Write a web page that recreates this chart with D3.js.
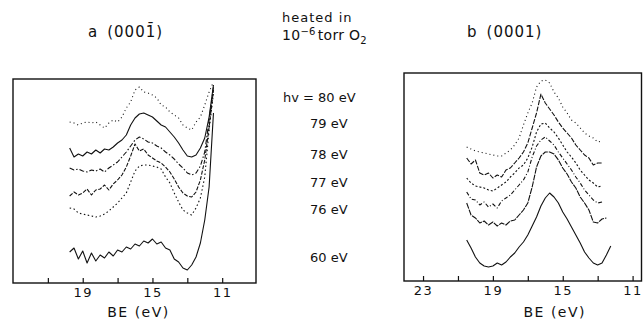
<!DOCTYPE html>
<html>
<head>
<meta charset="utf-8">
<script src="https://cdn.jsdelivr.net/npm/d3@7"></script>
<style>
body { margin: 0; background: #fff; }
text { font-family: "DejaVu Sans", sans-serif; fill: #111; }
.trace { fill: none; stroke: #111; stroke-width: 1.1; stroke-linejoin: round; }
.frame { fill: none; stroke: #111; stroke-width: 1.4; }
.axis text { font-size: 13px; letter-spacing: 1.5px; }
.axis line { stroke: #111; stroke-width: 1.2; }
</style>
</head>
<body>
<svg id="chart" width="643" height="322"></svg>
<script>
/////////////////////////////////////
///      DATA
/////////////////////////////////////

var photonEnergies = [80, 79, 78, 77, 76, 60];   // eV, top to bottom

var ticksA = [21, 19, 17, 15, 13, 11], tickLabelsA = [19, 15, 11];
var ticksB = [23, 21, 19, 17, 15, 13, 11], tickLabelsB = [23, 19, 15, 11];

// panel a (000-1), binding energy grid (eV)
var beA = [19.75, 19.5, 19.25, 19.0, 18.75, 18.5, 18.25, 18.0, 17.75, 17.5, 17.25, 17.0,
           16.75, 16.5, 16.25, 16.0, 15.75, 15.5, 15.25, 15.0, 14.75, 14.5, 14.25, 14.0,
           13.75, 13.5, 13.25, 13.0, 12.75, 12.5, 12.25, 12.0, 11.75, 11.5];
var a80 = [161,160,158,160,161,160,161,158,155,160,163,161,166,175,181,193,196,191,190,188,185,178,176,171,168,165,158,155,153,161,166,178,191,201];
var a79 = [135,126,129,127,131,129,133,130,134,133,136,140,143,148,158,165,169,170,168,166,162,158,156,151,146,140,133,127,126,128,135,145,166,198];
var a78 = [115,113,114,112,111,113,112,114,111,115,118,121,126,131,137,143,146,144,141,140,137,135,131,128,124,119,115,110,108,110,117,131,163,196];
var a77 = [87,91,88,90,94,88,93,94,98,93,99,103,108,116,127,139,132,134,128,125,122,120,116,111,104,96,90,87,86,91,103,123,156,193];
var a76 = [75,74,70,69,68,67,66,67,69,72,76,80,85,90,101,112,117,118,118,117,116,114,106,100,90,81,73,70,68,75,85,106,153,190];
var a60 = [31,35,24,32,20,30,22,28,25,31,27,33,31,36,34,39,37,42,40,44,39,41,35,33,24,21,15,13,18,26,40,63,96,170];

// panel b (0001)
var beB = [20.5, 20.25, 20.0, 19.75, 19.5, 19.25, 19.0, 18.75, 18.5, 18.25, 18.0, 17.75,
           17.5, 17.25, 17.0, 16.75, 16.5, 16.25, 16.0, 15.75, 15.5, 15.25, 15.0, 14.75,
           14.5, 14.25, 14.0, 13.75, 13.5, 13.25, 13.0, 12.75, 12.5, 12.25];
var b80 = [134,132,130,129,128,127,126,125,125,128,131,136,143,156,168,178,194,200,201,198,189,183,174,168,161,158,153,148,145,143,139,140,null,null];
var b79 = [123,117,121,108,106,108,103,106,104,111,113,118,123,129,138,153,168,187,178,172,166,159,153,148,143,136,131,126,123,116,118,118,null,null];
var b78 = [103,98,95,94,93,91,90,93,96,99,104,108,113,116,123,134,149,157,158,153,149,143,136,129,124,118,111,106,101,98,94,95,null,null];
var b77 = [89,82,81,76,79,74,77,73,80,83,86,91,96,101,109,124,135,141,144,140,136,129,123,117,111,104,98,91,86,81,78,79,null,null];
var b76 = [78,66,63,58,60,56,59,55,58,56,60,61,66,71,78,94,114,125,129,129,127,121,113,107,99,93,84,78,71,59,58,62,63,null];
var b60 = [41,33,24,18,15,14,15,18,16,19,24,28,34,39,46,55,64,75,83,88,84,78,69,62,54,46,38,29,23,18,16,18,26,35];

/////////////////////////////////////
///      PANELS
/////////////////////////////////////

var svg = d3.select("#chart");

function drawPanel(cfg) {
  var x = d3.scaleLinear().domain(cfg.xDomain).range([cfg.left, cfg.right]);
  var y = d3.scaleLinear().domain([0, cfg.bottom - cfg.top]).range([cfg.bottom, cfg.top]);

  var line = d3.line()
      .defined(function(d) { return d[1] != null; })
      .x(function(d) { return x(d[0]); })
      .y(function(d) { return y(d[1]); });

  var g = svg.append("g");

  cfg.series.forEach(function(s, i) {
    g.append("path")
      .datum(cfg.be.map(function(b, j) { return [b, s[j]]; }))
      .attr("class", "trace")
      .attr("stroke-dasharray", cfg.dash[i])
      .attr("d", line);
  });

  g.append("g")
    .attr("class", "axis")
    .attr("transform", "translate(0," + cfg.bottom + ")")
    .call(d3.axisBottom(x)
      .tickValues(cfg.ticks)
      .tickSizeInner(-5).tickSizeOuter(0)
      .tickPadding(cfg.pad)
      .tickFormat(function(d) { return cfg.labels.indexOf(d) >= 0 ? d : ""; }))
    .call(function(a) { a.select(".domain").remove(); });

  g.append("rect").attr("class", "frame")
    .attr("x", cfg.left).attr("y", cfg.top)
    .attr("width", cfg.right - cfg.left).attr("height", cfg.bottom - cfg.top);

  g.append("text")
    .attr("x", (cfg.left + cfg.right) / 2 + cfg.titleShift).attr("y", 317)
    .attr("text-anchor", "middle").style("font-size", "14px").style("letter-spacing", "1.5px")
    .text("BE (eV)");
}

drawPanel({
  left: 13, right: 256, top: 79, bottom: 283, xDomain: [23, 9.06],
  be: beA, series: [a80, a79, a78, a77, a76, a60],
  dash: ["1,3", null, "5,2,1.5,2", "4,1.5", "1.5,2.5", null],
  ticks: ticksA, labels: tickLabelsA, pad: 5, titleShift: 4
});

drawPanel({
  left: 404, right: 641.5, top: 73, bottom: 281, xDomain: [24.09, 10.49],
  be: beB, series: [b80, b79, b78, b77, b76, b60],
  dash: ["1,3", "5,1.5", "2,2", "4,2,1,2", "6,1", null],
  ticks: ticksB, labels: tickLabelsB, pad: 5, titleShift: 32
});

// titles
var ta = svg.append("text").attr("x", 88).attr("y", 37).style("font-size", "15px").style("letter-spacing", "1px");
ta.append("tspan").text("a");
ta.append("tspan").attr("dx", 9).text("(000\u0031\u0304)");

var tb = svg.append("text").attr("x", 467).attr("y", 37).style("font-size", "15px").style("letter-spacing", "1px");
tb.append("tspan").text("b");
tb.append("tspan").attr("dx", 9).text("(0001)");

// treatment note
svg.append("text").attr("x", 282).attr("y", 22).style("font-size", "13px").style("letter-spacing", "1px")
  .text("heated in");
var t2 = svg.append("text").attr("x", 282).attr("y", 40).style("font-size", "14px").style("letter-spacing", "0.3px");
t2.append("tspan").text("10");
t2.append("tspan").attr("dy", -5).style("font-size", "10px").text("\u22126");
t2.append("tspan").attr("dy", 5).attr("dx", 2).text("torr O");
t2.append("tspan").attr("dy", 4).style("font-size", "10px").text("2");

// photon energy labels
var labelY = [102, 128, 159, 187, 214, 262];
photonEnergies.forEach(function(e, i) {
  svg.append("text")
    .attr("x", i === 0 ? 283 : 310).attr("y", labelY[i])
    .style("font-size", "13px")
    .text((i === 0 ? "hv = " : "") + e + " eV");
});
</script>
</body>
</html>
